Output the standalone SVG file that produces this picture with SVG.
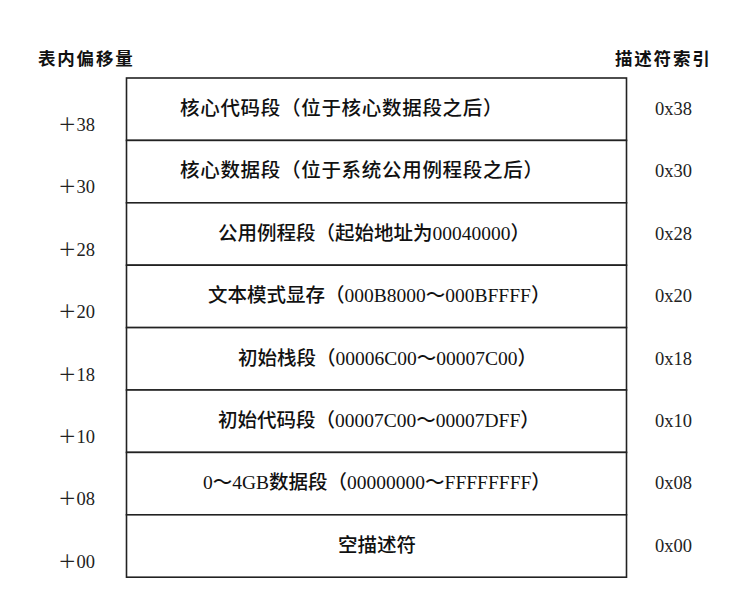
<svg xmlns="http://www.w3.org/2000/svg" width="753" height="600" viewBox="0 0 753 600">
<style>
.cell{fill:#fff;stroke:#222;stroke-width:1.6}
.t{font-family:"Liberation Serif","Noto Sans CJK SC",serif;font-size:19.5px;fill:#111;font-weight:500}
.w{letter-spacing:0.7px}
.h{font-family:"Noto Sans CJK SC","Liberation Serif",sans-serif;font-size:17.5px;fill:#111;font-weight:700;letter-spacing:1.8px}
.l{font-family:"Liberation Serif","Noto Sans CJK SC",serif;font-size:18.5px;fill:#222}
</style>
<rect width="753" height="600" fill="#fff"/>
<g id="headers">
<text class="h" x="38" y="65">表内偏移量</text>
<text class="h" x="615" y="65">描述符索引</text>
</g>
<g id="row-38">
<rect class="cell" x="126.5" y="78" width="500" height="62.4"/>
<text class="t w" x="180" y="115">核心代码段（位于核心数据段之后）</text>
</g>
<g id="row-30">
<rect class="cell" x="126.5" y="140.4" width="500" height="62.4"/>
<text class="t w" x="180" y="177.4">核心数据段（位于系统公用例程段之后）</text>
</g>
<g id="row-28">
<rect class="cell" x="126.5" y="202.8" width="500" height="62.4"/>
<text class="t" x="218" y="239.8">公用例程段（起始地址为00040000）</text>
</g>
<g id="row-20">
<rect class="cell" x="126.5" y="265.2" width="500" height="62.4"/>
<text class="t" x="208" y="302.2">文本模式显存（000B8000～000BFFFF）</text>
</g>
<g id="row-18">
<rect class="cell" x="126.5" y="327.6" width="500" height="62.4"/>
<text class="t" x="238" y="364.6">初始栈段（00006C00～00007C00）</text>
</g>
<g id="row-10">
<rect class="cell" x="126.5" y="390" width="500" height="62.4"/>
<text class="t" x="218" y="427">初始代码段（00007C00～00007DFF）</text>
</g>
<g id="row-08">
<rect class="cell" x="126.5" y="452.4" width="500" height="62.4"/>
<text class="t" x="203" y="489.4">0～4GB数据段（00000000～FFFFFFFF）</text>
</g>
<g id="row-00">
<rect class="cell" x="126.5" y="514.8" width="500" height="62.4"/>
<text class="t" x="338" y="551.8">空描述符</text>
</g>
<g id="offsets">
<text class="l" x="58" y="131">＋38</text>
<text class="l" x="58" y="193.4">＋30</text>
<text class="l" x="58" y="255.8">＋28</text>
<text class="l" x="58" y="318.2">＋20</text>
<text class="l" x="58" y="380.6">＋18</text>
<text class="l" x="58" y="443">＋10</text>
<text class="l" x="58" y="505.4">＋08</text>
<text class="l" x="58" y="567.8">＋00</text>
</g>
<g id="indexes">
<text class="l" x="655" y="115">0x38</text>
<text class="l" x="655" y="177.4">0x30</text>
<text class="l" x="655" y="239.8">0x28</text>
<text class="l" x="655" y="302.2">0x20</text>
<text class="l" x="655" y="364.6">0x18</text>
<text class="l" x="655" y="427">0x10</text>
<text class="l" x="655" y="489.4">0x08</text>
<text class="l" x="655" y="551.8">0x00</text>
</g>
<g id="connectors"/>
</svg>
